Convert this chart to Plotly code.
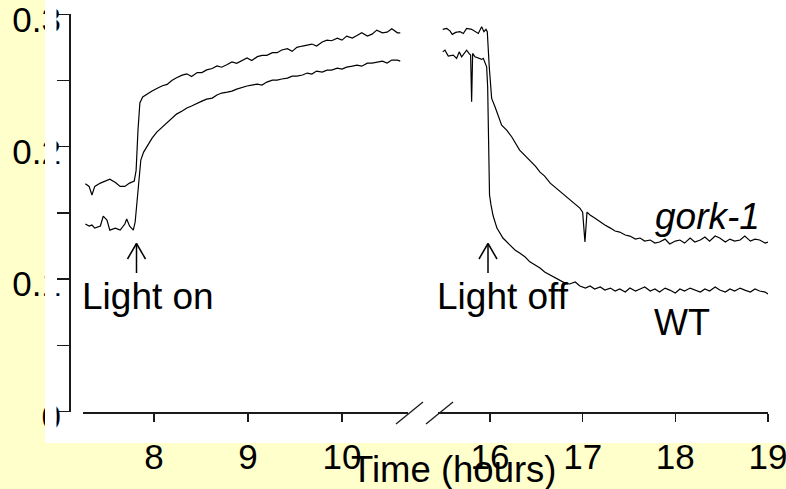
import plotly.graph_objects as go

W, H = 786, 489

# ---------------- data (hours, signal) ----------------
gork_left_t = [7.27, 7.31, 7.34, 7.37, 7.43, 7.48, 7.53, 7.59, 7.64, 7.69, 7.74, 7.79, 7.81, 7.83, 7.85, 7.88, 7.93, 7.98,
               8.03, 8.09, 8.14, 8.19, 8.24, 8.30, 8.35, 8.40, 8.46, 8.51, 8.56, 8.62, 8.67, 8.72, 8.78, 8.83, 8.88, 8.94,
               8.99, 9.04, 9.10, 9.15, 9.20, 9.26, 9.31, 9.36, 9.42, 9.47, 9.52, 9.58, 9.63, 9.68, 9.73, 9.79, 9.84, 9.89,
               9.95, 10.00, 10.05, 10.11, 10.16, 10.21, 10.27, 10.32, 10.37, 10.43, 10.48, 10.53, 10.59, 10.62]
gork_left_v = [0.172, 0.170, 0.1635, 0.170, 0.1725, 0.174, 0.1755, 0.173, 0.170, 0.170, 0.1725, 0.174, 0.182, 0.2125,
               0.233, 0.2375, 0.240, 0.242,
               0.244, 0.246, 0.247, 0.250, 0.252, 0.254, 0.255, 0.253, 0.256, 0.256, 0.258, 0.259, 0.261, 0.260, 0.262,
               0.264, 0.263, 0.265, 0.267, 0.265, 0.268, 0.269, 0.269, 0.271, 0.271, 0.273, 0.274, 0.272, 0.275, 0.276,
               0.277, 0.2775, 0.276, 0.279, 0.2805, 0.280, 0.282, 0.2805, 0.2835, 0.282, 0.284, 0.286, 0.2835, 0.285,
               0.288, 0.286, 0.2865, 0.289, 0.286, 0.286]

wt_left_t = [7.27, 7.31, 7.34, 7.37, 7.43, 7.46, 7.50, 7.53, 7.59, 7.64, 7.69, 7.71, 7.74, 7.78, 7.80, 7.82, 7.84, 7.86,
             7.89, 7.93, 7.98,
             8.03, 8.09, 8.14, 8.19, 8.24, 8.30, 8.35, 8.40, 8.46, 8.51, 8.56, 8.62, 8.67, 8.72, 8.78, 8.83, 8.88, 8.94,
             8.99, 9.04, 9.10, 9.15, 9.20, 9.26, 9.31, 9.36, 9.42, 9.47, 9.52, 9.58, 9.63, 9.68, 9.73, 9.79, 9.84, 9.89,
             9.95, 10.00, 10.05, 10.11, 10.16, 10.21, 10.27, 10.32, 10.37, 10.43, 10.48, 10.53, 10.59, 10.62]
wt_left_v = [0.1416, 0.1401, 0.1408, 0.1385, 0.1401, 0.1476, 0.1446, 0.1370, 0.1385, 0.1370, 0.1416, 0.1454, 0.1401,
             0.1370, 0.1431, 0.1597, 0.1786, 0.1899, 0.1959, 0.2005, 0.2065,
             0.2110, 0.2148, 0.2186, 0.2216, 0.2246, 0.2269, 0.2292, 0.2307, 0.2329, 0.2344, 0.2359, 0.2367, 0.2390,
             0.2405, 0.2412, 0.2420, 0.2435, 0.2450, 0.2458, 0.2465, 0.2473, 0.2465, 0.2488, 0.2503, 0.2503, 0.2511,
             0.2518, 0.2533, 0.2533, 0.2541, 0.2556, 0.2548, 0.2571, 0.2563, 0.2578, 0.2578, 0.2593, 0.2586, 0.2601,
             0.2608, 0.2616, 0.2608, 0.2631, 0.2631, 0.2639, 0.2646, 0.2631, 0.2654, 0.2654, 0.2646]

gork_right_t = [15.490, 15.533, 15.568, 15.593, 15.630, 15.676, 15.712, 15.748, 15.802, 15.838, 15.874, 15.910, 15.935,
                15.957, 15.971, 15.992, 16.018, 16.054, 16.089, 16.126, 16.180, 16.234,
                16.32, 16.38, 16.43, 16.49, 16.54, 16.59, 16.65, 16.70, 16.76, 16.81, 16.86, 16.92, 16.97, 17.00,
                17.025, 17.047, 17.08, 17.13, 17.19, 17.24, 17.30, 17.35, 17.40, 17.46, 17.51, 17.57, 17.62, 17.67,
                17.73, 17.78, 17.83, 17.89, 17.94, 18.00, 18.05, 18.10, 18.16, 18.21, 18.27, 18.32, 18.37, 18.43,
                18.48, 18.54, 18.59, 18.64, 18.70, 18.75, 18.81, 18.86, 18.91, 18.97, 19.00]
gork_right_v = [0.2886, 0.2893, 0.2875, 0.2848, 0.2863, 0.2868, 0.2855, 0.2893, 0.2886, 0.2868, 0.2855, 0.2905, 0.2868,
                0.2886, 0.2868, 0.2603, 0.2365, 0.2301, 0.2226, 0.2163, 0.2125, 0.2075,
                0.1974, 0.1929, 0.1899, 0.1853, 0.1808, 0.1778, 0.1725, 0.1695, 0.1657, 0.1627, 0.1597, 0.1559,
                0.1536, 0.1506, 0.1280, 0.1506, 0.1484, 0.1461, 0.1431, 0.1408, 0.1385, 0.1363, 0.1355, 0.1333,
                0.1325, 0.1302, 0.1310, 0.1287, 0.1295, 0.1272, 0.1280, 0.1302, 0.1265, 0.1287, 0.1295, 0.1272,
                0.1310, 0.1280, 0.1295, 0.1318, 0.1287, 0.1325, 0.1310, 0.1280, 0.1302, 0.1287, 0.1295, 0.1325,
                0.1287, 0.1302, 0.1295, 0.1272, 0.1280]

wt_right_t = [15.490, 15.514, 15.550, 15.604, 15.640, 15.668, 15.694, 15.722, 15.748, 15.773, 15.791, 15.802, 15.813,
              15.838, 15.874, 15.910, 15.928, 15.946, 15.964, 15.975, 15.986, 15.995, 16.011, 16.033, 16.075, 16.140,
              16.216, 16.270,
              16.32, 16.38, 16.43, 16.49, 16.54, 16.59, 16.65, 16.70, 16.76, 16.81, 16.86, 16.92, 16.97, 17.03,
              17.08, 17.13, 17.19, 17.24, 17.30, 17.35, 17.40, 17.46, 17.51, 17.57, 17.62, 17.67, 17.73, 17.78,
              17.83, 17.89, 17.94, 18.00, 18.05, 18.10, 18.16, 18.21, 18.27, 18.32, 18.37, 18.43, 18.48, 18.54,
              18.59, 18.64, 18.70, 18.75, 18.81, 18.86, 18.91, 18.97, 19.00]
wt_right_v = [0.2716, 0.2729, 0.2684, 0.2692, 0.2667, 0.2716, 0.2679, 0.2704, 0.2729, 0.2704, 0.2692, 0.2339, 0.2704,
              0.2679, 0.2667, 0.2659, 0.2667, 0.2641, 0.2603, 0.2452, 0.2050, 0.1635, 0.1560, 0.1480, 0.1385, 0.1310,
              0.1257, 0.1220,
              0.1197, 0.1167, 0.1130, 0.1107, 0.1084, 0.1054, 0.1031, 0.1016, 0.0993, 0.0970, 0.0963, 0.0978,
              0.0948, 0.0932, 0.0948, 0.0925, 0.0940, 0.0917, 0.0932, 0.0910, 0.0925, 0.0902, 0.0932, 0.0910,
              0.0925, 0.0940, 0.0910, 0.0925, 0.0902, 0.0932, 0.0917, 0.0895, 0.0925, 0.0910, 0.0932, 0.0917,
              0.0902, 0.0925, 0.0910, 0.0940, 0.0917, 0.0902, 0.0925, 0.0910, 0.0932, 0.0917, 0.0902, 0.0925,
              0.0910, 0.0902, 0.0887]

left_ticks = [8, 9, 10]
right_ticks = [16, 17, 18, 19]
y_ticks = [0, 0.05, 0.1, 0.15, 0.2, 0.25, 0.3]
y_ticktext = ["0", "", "0.1", "", "0.2", "", "0.3"]

# ---------------- figure ----------------
FONT = "Arial, Liberation Sans, sans-serif"
INK = "#1a1a1a"

def px(x):
    return x / W

def py(y):
    return (H - y) / H

fig = go.Figure()
line = dict(color="black", width=1.2)
fig.add_trace(go.Scatter(x=gork_left_t, y=gork_left_v, mode="lines", line=line, xaxis="x", yaxis="y", showlegend=False))
fig.add_trace(go.Scatter(x=wt_left_t, y=wt_left_v, mode="lines", line=line, xaxis="x", yaxis="y", showlegend=False))
fig.add_trace(go.Scatter(x=gork_right_t, y=gork_right_v, mode="lines", line=line, xaxis="x2", yaxis="y", showlegend=False))
fig.add_trace(go.Scatter(x=wt_right_t, y=wt_right_v, mode="lines", line=line, xaxis="x2", yaxis="y", showlegend=False))

xcommon = dict(showgrid=False, zeroline=False, showline=True, linecolor=INK, linewidth=1.5,
               ticks="outside", ticklen=8, tickwidth=1.5, tickcolor=INK, ticklabeloverflow="allow",
               ticklabelstandoff=5, automargin=False,
               tickfont=dict(family=FONT, size=35, color="black"),
               anchor="free", position=py(412))

fig.update_layout(
    width=W, height=H, autosize=False,
    margin=dict(l=0, r=0, t=0, b=0, pad=0),
    paper_bgcolor="#FFFFCC", plot_bgcolor="rgba(0,0,0,0)",
    xaxis=dict(domain=[px(83), px(408)], range=[7.245, 7.245 + 325 / 94],
               tickvals=left_ticks, ticktext=[str(v) for v in left_ticks], **xcommon),
    xaxis2=dict(domain=[px(438), px(768)], range=[15.439, 15.439 + 330 / 92.67 + 0.0005],
                tickvals=right_ticks, ticktext=[str(v) for v in right_ticks], **xcommon),
    yaxis=dict(domain=[py(411.5), py(14)], range=[0, 0.3002], anchor="free", position=px(69),
               showgrid=False, zeroline=False, showline=True, linecolor=INK, linewidth=1.5,
               ticks="outside", ticklen=12, tickwidth=1.5, tickcolor=INK, ticklabeloverflow="allow",
               automargin=False,
               tickvals=y_ticks, ticktext=y_ticktext, ticklabelshift=5, ticklabelstandoff=-11,
               tickfont=dict(family=FONT, size=35, color="black")),
    shapes=[
        dict(type="rect", xref="paper", yref="paper", x0=px(45), x1=1, y0=py(443), y1=1,
             fillcolor="white", line=dict(width=0), layer="below"),
        dict(type="rect", xref="paper", yref="paper", x0=px(45), x1=px(56.5), y0=py(443), y1=1,
             fillcolor="white", line=dict(width=0), layer="above"),
        # axis break marks
        dict(type="line", xref="paper", yref="paper", x0=px(396), y0=py(424), x1=px(423), y1=py(402),
             line=dict(color=INK, width=1.3)),
        dict(type="line", xref="paper", yref="paper", x0=px(426), y0=py(424), x1=px(453), y1=py(402),
             line=dict(color=INK, width=1.3)),
    ],
)

# open arrows (stem + two head strokes)
for ax_ in (136.5, 488):
    for (xa, ya, xb, yb) in [(ax_, 273, ax_, 243.5), (ax_ - 9, 259, ax_, 243.5), (ax_ + 9, 259, ax_, 243.5)]:
        fig.add_shape(type="line", xref="paper", yref="paper", x0=px(xa), y0=py(ya), x1=px(xb), y1=py(yb),
                      line=dict(color="black", width=1.5))

def note(text, x, y, size=37, italic=False):
    fig.add_annotation(text=("<i>%s</i>" % text) if italic else text, xref="paper", yref="paper",
                       x=px(x), y=py(y), xanchor="center", yanchor="middle", showarrow=False,
                       font=dict(family=FONT, size=size, color="black"))

note("Light on", 147.5, 296)
note("Light off", 502.5, 296)
note("gork-1", 707.5, 216, italic=True)
note("WT", 682, 322, size=36)
note("Time (hours)", 453.5, 469, size=36.5)

fig.write_html("out.html", config={"displayModeBar": False, "staticPlot": True},
               post_script="document.body.style.margin='0';document.body.style.overflow='hidden';")
